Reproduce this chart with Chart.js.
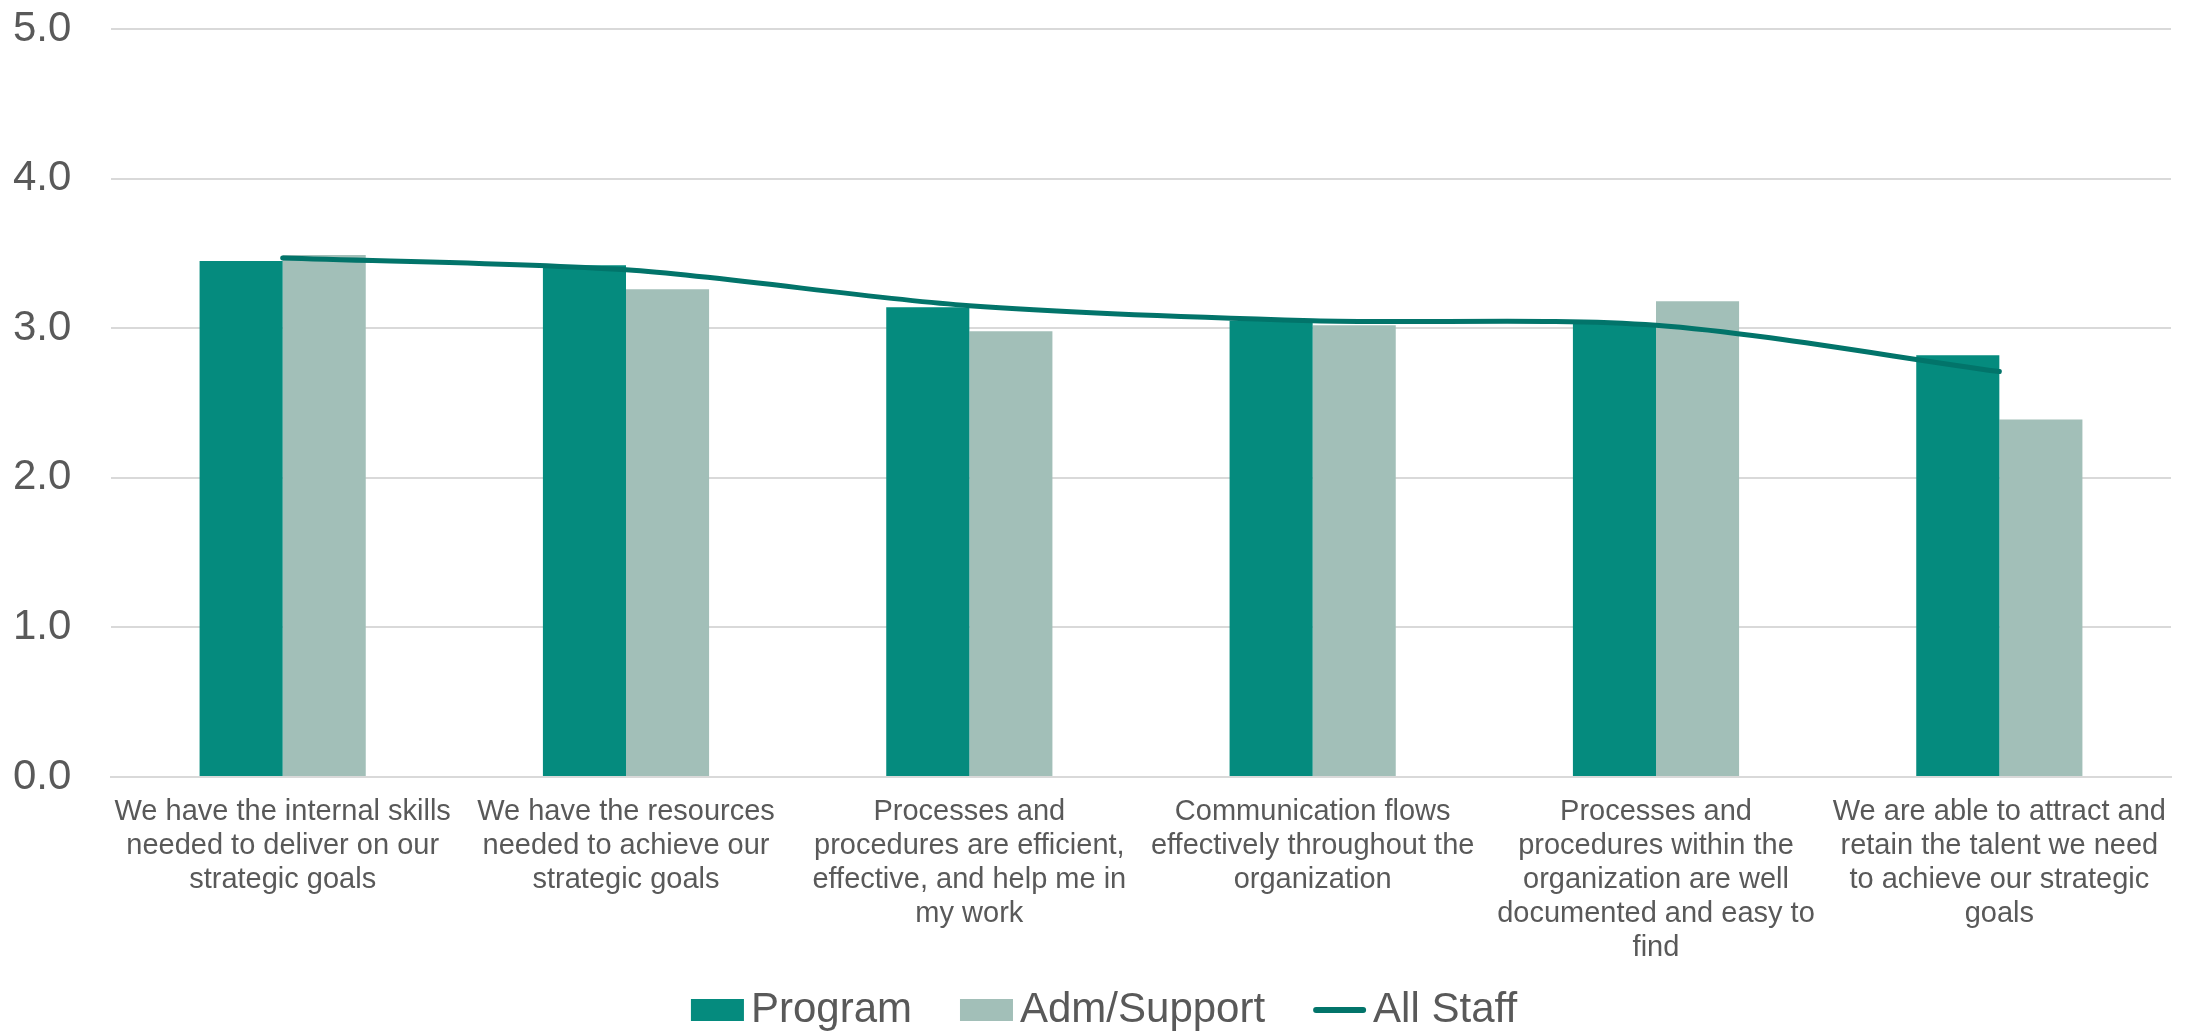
<!DOCTYPE html>
<html>
<head>
<meta charset="utf-8">
<script src="https://cdn.jsdelivr.net/npm/chart.js@4.4.1/dist/chart.umd.min.js"></script>
<style>
  html, body { margin: 0; padding: 0; background: #ffffff; }
  #wrap { width: 2192px; height: 1031px; position: relative; }
</style>
</head>
<body>
<div id="wrap"><canvas id="chartStrategy"></canvas></div>
<script>
const categories = [
  ['We have the internal skills', 'needed to deliver on our', 'strategic goals'],
  ['We have the resources', 'needed to achieve our', 'strategic goals'],
  ['Processes and', 'procedures are efficient,', 'effective, and help me in', 'my work'],
  ['Communication flows', 'effectively throughout the', 'organization'],
  ['Processes and', 'procedures within the', 'organization are well', 'documented and easy to', 'find'],
  ['We are able to attract and', 'retain the talent we need', 'to achieve our strategic', 'goals']
];
const programScores = [3.45, 3.42, 3.14, 3.05, 3.03, 2.82];
const supportScores = [3.49, 3.26, 2.98, 3.02, 3.18, 2.39];
const allStaffScores = [3.47, 3.39, 3.15, 3.05, 3.02, 2.71];
const yTicks = [0, 1, 2, 3, 4, 5];

const colors = {
  program: '#058b7e',
  support: '#a2bfb8',
  allStaff: '#02746a',
  text: '#595959',
  grid: '#d9d9d9'
};

const FONT = "'Liberation Sans', Arial, sans-serif";
Chart.defaults.font.family = FONT;
Chart.defaults.color = colors.text;

// bottom legend drawn by hand so the swatch/text spacing stays tight
const bottomLegend = {
  id: 'bottomLegend',
  afterDraw(chart) {
    const c = chart.ctx;
    const size = 42, swatchW = 53, swatchH = 22, gap = 7, itemGap = 48;
    c.save();
    c.font = size + 'px ' + FONT;
    c.textBaseline = 'middle';
    const items = chart.data.datasets.map(ds => ({
      text: ds.label,
      isLine: ds.type === 'line',
      color: ds.type === 'line' ? ds.borderColor : ds.backgroundColor,
      w: c.measureText(ds.label).width
    }));
    const total = items.reduce((s, it) => s + swatchW + gap + it.w, 0) + itemGap * (items.length - 1);
    let x = (chart.width - total) / 2 + 8;
    const cy = 1010;
    items.forEach(it => {
      if (it.isLine) {
        c.strokeStyle = it.color;
        c.lineWidth = 6;
        c.lineCap = 'round';
        c.beginPath();
        c.moveTo(x + 3, cy);
        c.lineTo(x + swatchW - 3, cy);
        c.stroke();
      } else {
        c.fillStyle = it.color;
        c.fillRect(x, cy - swatchH / 2, swatchW, swatchH);
      }
      x += swatchW + gap;
      c.fillStyle = colors.text;
      c.fillText(it.text, x, cy);
      x += it.w + itemGap;
    });
    c.restore();
  }
};

const ctx = document.getElementById('chartStrategy');
new Chart(ctx, {
  data: {
    labels: categories,
    datasets: [
      {
        type: 'bar',
        label: 'Program',
        data: programScores,
        backgroundColor: colors.program,
        borderWidth: 0,
        categoryPercentage: 0.484,
        barPercentage: 1.0,
        order: 1
      },
      {
        type: 'bar',
        label: 'Adm/Support',
        data: supportScores,
        backgroundColor: colors.support,
        borderWidth: 0,
        categoryPercentage: 0.484,
        barPercentage: 1.0,
        order: 2
      },
      {
        type: 'line',
        label: 'All Staff',
        data: allStaffScores,
        borderColor: colors.allStaff,
        backgroundColor: colors.allStaff,
        borderWidth: 5,
        borderCapStyle: 'round',
        tension: 0.3,
        pointRadius: 0,
        fill: false,
        order: 0
      }
    ]
  },
  plugins: [bottomLegend],
  options: {
    responsive: true,
    maintainAspectRatio: false,
    animation: false,
    layout: { padding: { top: 29, right: 21, left: 13, bottom: 64 } },
    scales: {
      x: {
        offset: true,
        grid: { display: false, drawTicks: false },
        border: { display: true, color: colors.grid, width: 2 },
        ticks: {
          autoSkip: false,
          maxRotation: 0,
          padding: 18,
          color: colors.text,
          font: { size: 29, lineHeight: 1.17 }
        },
        afterFit: (scale) => { scale.height = 190; }
      },
      y: {
        min: 0,
        max: 5,
        afterBuildTicks: (scale) => { scale.ticks = yTicks.map(v => ({ value: v })); },
        grid: { color: colors.grid, lineWidth: 2, drawTicks: false },
        border: { display: false },
        ticks: {
          padding: 0,
          crossAlign: 'far',
          color: colors.text,
          font: { size: 42, lineHeight: 1.0 },
          callback: (v) => Number(v).toFixed(1)
        },
        afterFit: (scale) => { scale.width = 98; }
      }
    },
    plugins: {
      tooltip: { enabled: false },
      legend: { display: false }
    }
  }
});
</script>
</body>
</html>
